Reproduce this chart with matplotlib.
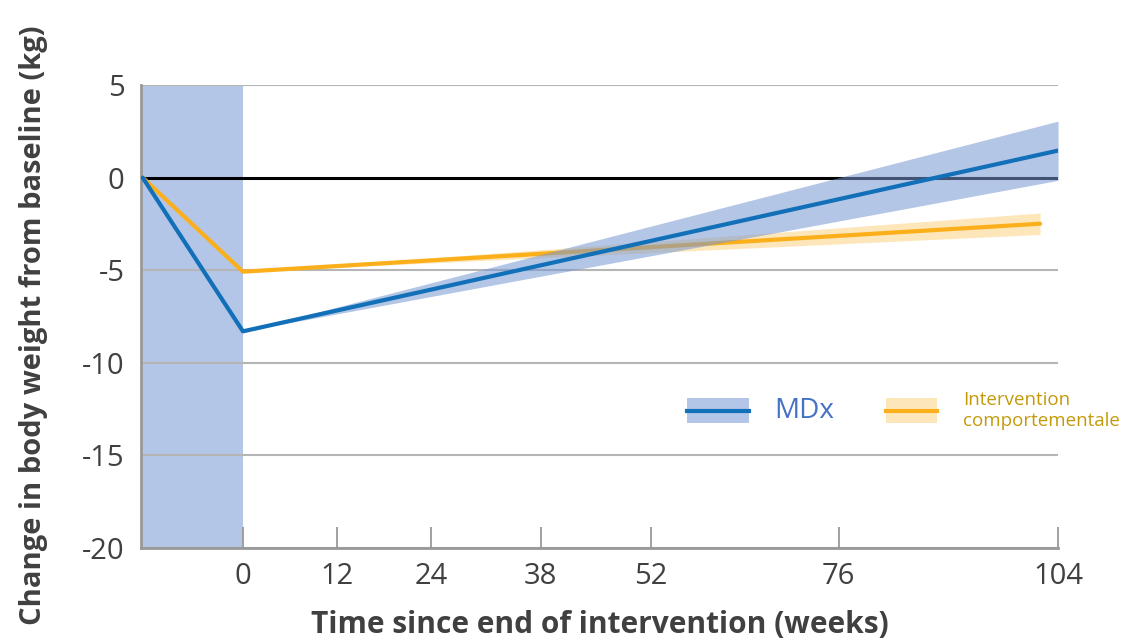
import matplotlib
matplotlib.use("Agg")
import matplotlib.pyplot as plt
from matplotlib.patches import Rectangle
from matplotlib.lines import Line2D

plt.rcParams['font.family'] = ['Open Sans', 'DejaVu Sans']
plt.rcParams['axes.unicode_minus'] = False

# data
weeks_mdx = [-12.8, 0, 104]
change_mdx = [0, -8.3, 1.46]
band_weeks_mdx = [0, 104]
band_low_mdx = [-8.3, -0.15]
band_high_mdx = [-8.3, 3.05]

weeks_beh = [-12.8, 0, 101.7]
change_beh = [0, -5.08, -2.49]
band_weeks_beh = [0, 101.7]
band_low_beh = [-5.08, -3.07]
band_high_beh = [-5.08, -1.91]

xticks = [0, 12, 24, 38, 52, 76, 104]
yticks = [5, 0, -5, -10, -15, -20]
intervention_period = (-13, 0)

blue = '#1170b8'
blue_band = '#b4c6e7'
band_base = '#7797d3'   # drawn with alpha so it looks like blue_band on white
orange = '#fbb01b'
text_grey = '#404040'

fig = plt.figure(figsize=(11.44, 6.41), dpi=100)
ax = fig.add_axes([0.1233, 0.145, 0.8016, 0.7224])

ax.axvspan(*intervention_period, color=blue_band, zorder=0, lw=0)
for y in yticks:
    if y == 0:
        continue
    ax.axhline(y, color='#b5b5b5', lw=1.5, zorder=1)
ax.axhline(0, color='black', lw=2.2, zorder=2)

# orange first, the blue band is see-through and lies over it
ax.fill_between(band_weeks_beh, band_low_beh, band_high_beh, color=orange, alpha=0.3, lw=0, zorder=3)
ax.plot(weeks_beh, change_beh, color=orange, lw=3, zorder=4, solid_capstyle='round')
ax.fill_between(band_weeks_mdx, band_low_mdx, band_high_mdx, color=band_base, alpha=0.55, lw=0, zorder=5)
ax.plot(weeks_mdx, change_mdx, color=blue, lw=3, zorder=6, solid_capstyle='round')

ax.set_xlim(-13, 104)
ax.set_ylim(-20, 5)
ax.set_xticks(xticks)
ax.set_xticklabels([str(t) for t in xticks])
ax.set_yticks(yticks)
ax.tick_params(axis='x', direction='in', length=15, width=1.3, color='#999999',
               labelsize=21, labelcolor=text_grey, pad=10)
ax.tick_params(axis='y', length=0, labelsize=21, labelcolor=text_grey, pad=12)

for side in ['top', 'right']:
    ax.spines[side].set_visible(False)
for side in ['left', 'bottom']:
    ax.spines[side].set_color('#999999')
    ax.spines[side].set_linewidth(2)

ax.set_xlabel('Time since end of intervention (weeks)', fontsize=21.5, fontweight='bold',
              color=text_grey, labelpad=14)
ax.set_ylabel('Change in body weight from baseline (kg)', fontsize=21, fontweight='bold',
              color=text_grey)
ax.yaxis.set_label_coords(-0.101, 0.482)

# hand made legend
ax.add_patch(Rectangle((0.595, 0.270), 0.068, 0.054, transform=ax.transAxes,
                       color=blue_band, lw=0, clip_on=False, zorder=7))
ax.add_line(Line2D([0.595, 0.663], [0.297, 0.297], transform=ax.transAxes,
                   color=blue, lw=3, clip_on=False, zorder=8))
ax.text(0.691, 0.297, 'MDx', transform=ax.transAxes, fontsize=20, color='#4472c4',
        va='center', ha='left')

ax.add_patch(Rectangle((0.812, 0.270), 0.056, 0.054, transform=ax.transAxes,
                       color=orange, alpha=0.3, lw=0, clip_on=False, zorder=7))
ax.add_line(Line2D([0.812, 0.868], [0.297, 0.297], transform=ax.transAxes,
                   color=orange, lw=3, clip_on=False, zorder=8))
ax.text(0.896, 0.297, 'Intervention\ncomportementale', transform=ax.transAxes,
        fontsize=13.5, color='#c49a0c', va='center', ha='left', linespacing=1.25)

plt.savefig('out.png', dpi=100)
